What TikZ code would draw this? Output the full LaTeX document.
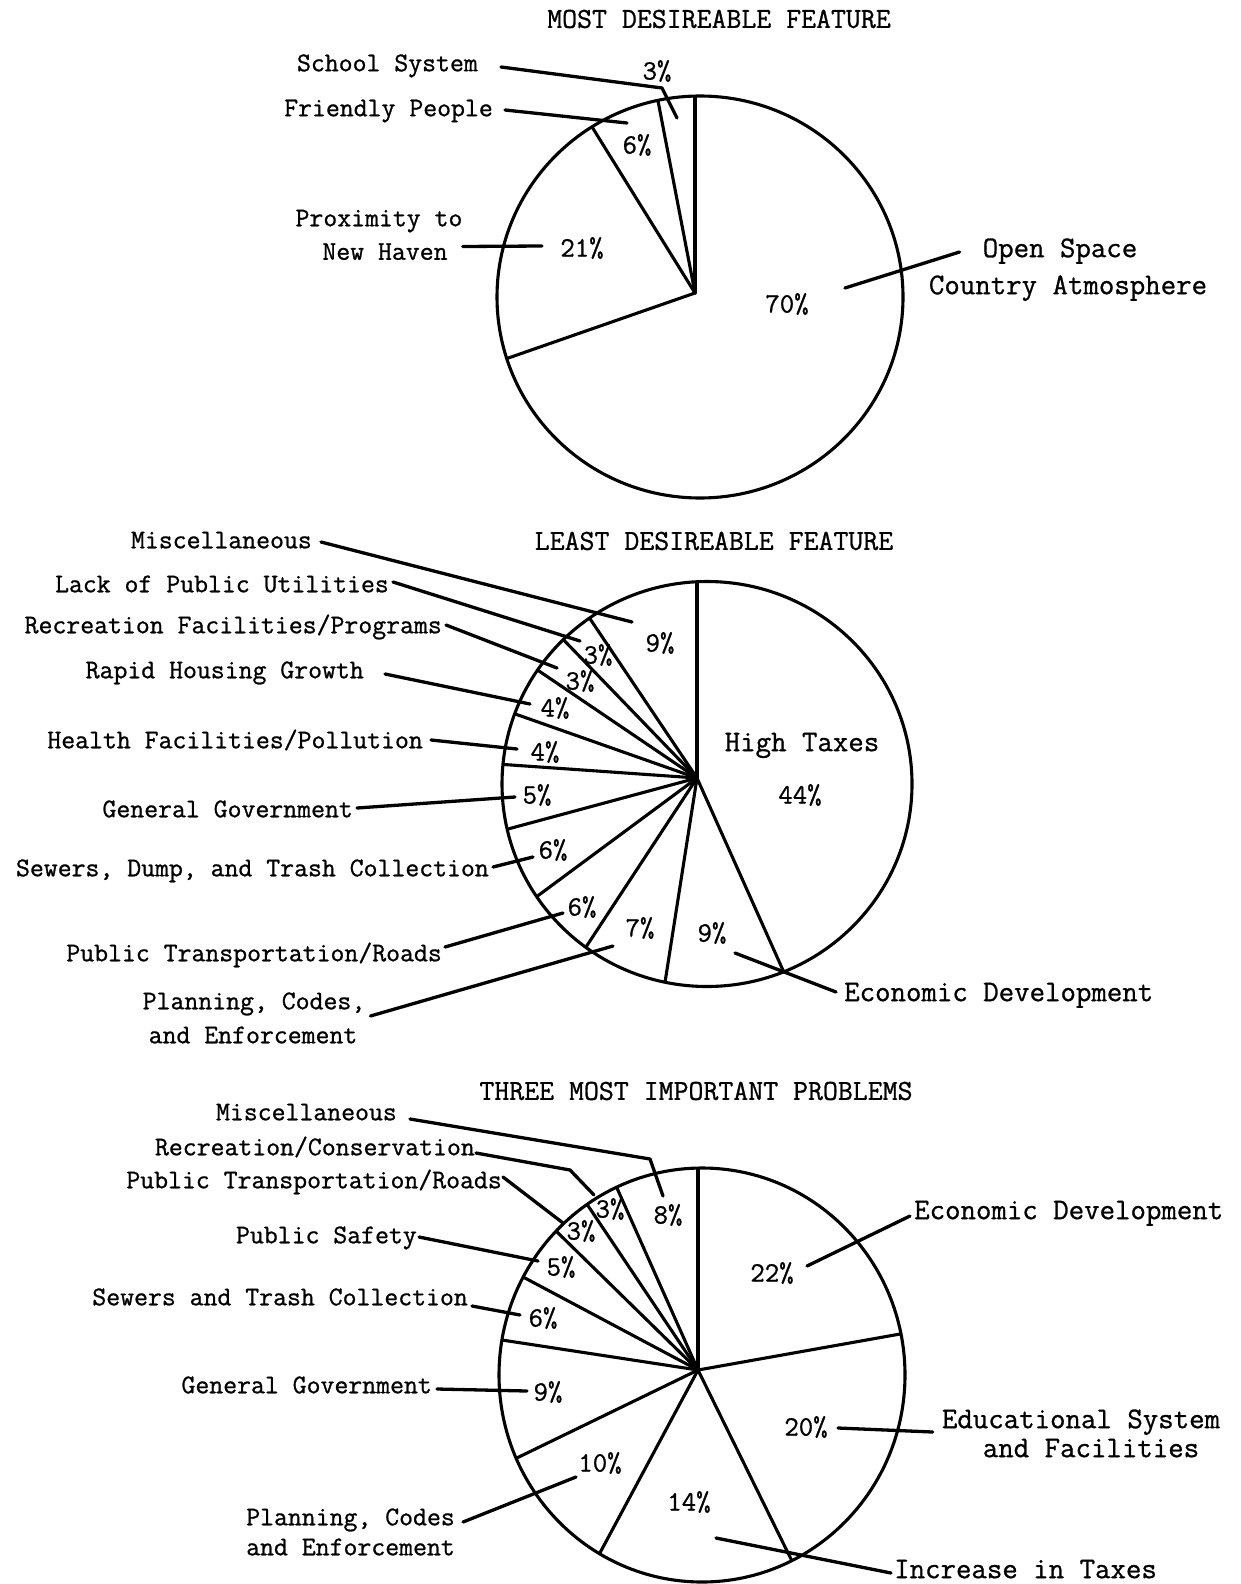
\documentclass[tikz,border=0pt]{standalone}
\usepackage{fontspec}
\newfontfamily\tw[FakeBold=0.9]{Latin Modern Mono}
\begin{document}
\begin{tikzpicture}[x=1pt,y=-1pt,
  pie/.style={line width=3.1pt, line cap=round, line join=round},
  lead/.style={line width=3.3pt, line cap=round, line join=round},
  labL/.style={font=\tw\fontsize{27pt}{30pt}\selectfont, inner sep=0pt, text height=16.5pt, text depth=0pt},
  labR/.style={font=\tw\fontsize{30pt}{33pt}\selectfont, inner sep=0pt, text height=18.3pt, text depth=0pt},
  pct/.style={font=\tw\fontsize{28pt}{30pt}\selectfont, inner sep=0pt, text height=17.1pt, text depth=0pt},
  ttl/.style={font=\tw\fontsize{29pt}{31pt}\selectfont, inner sep=0pt, text height=17.7pt, text depth=0pt}]
\fill[white] (0,0) rectangle (1240,1584);
\useasboundingbox (0,0) rectangle (1240,1584);

% ================= PIE 1 =================
\coordinate (c1) at (695,293);
\begin{scope}
  \clip (700,297) ellipse [x radius=203pt, y radius=201pt];
  \foreach \a in {90,100.9,121.8,199.2} \draw[pie] (c1) -- ++(-\a:450);
\end{scope}
\draw[pie] (700,297) ellipse [x radius=203pt, y radius=201pt];

\node[ttl] (t1) at (719,19) {MOST DESIREABLE FEATURE};
\node[labL, anchor=east] (ss) at (478,63) {School System};
\node[pct] (p1a) at (657,71) {3\%};
\node[labL, anchor=east] (fp) at (493,108) {Friendly People};
\node[pct] (p1b) at (637,145) {6\%};
\node[labL] (px1) at (379,218) {Proximity to};
\node[labL] (px2) at (385,251.5) {New Haven};
\node[pct] (p1c) at (582,248) {21\%};
\node[labR] (os1) at (1060,248) {Open Space};
\node[labR] (os2) at (1068,285) {Country Atmosphere};
\node[pct] (p1d) at (787,304) {70\%};

\coordinate (ssA) at (662,88); \coordinate (ssB) at (677,118);
\draw[lead] ([shift={(23,4)}]ss.east) -- (ssA) -- (ssB);
\coordinate (fpA) at (627,123);
\draw[lead] ([shift={(12,2)}]fp.east) -- (fpA);
\coordinate (pxA) at (542,246);
\draw[lead] ([shift={(15,-5)}]px2.east) -- (pxA);
\coordinate (osA) at (845,288);
\draw[lead] (osA) -- ([shift={(-23,4)}]os1.west);

% ================= PIE 2 =================
\coordinate (c2) at (697,778);
\begin{scope}
  \clip (707,784) ellipse [x radius=205pt, y radius=202.5pt];
  \foreach \a in {90,123.9,134,145.9,160.6,176,195.1,216.5,236.7,261.1,294.1} \draw[pie] (c2) -- ++(-\a:450);
\end{scope}
\draw[pie] (707,784) ellipse [x radius=205pt, y radius=202.5pt];

\node[ttl] (t2) at (714,541) {LEAST DESIREABLE FEATURE};
\node[labL, anchor=east] (m2) at (312,540) {Miscellaneous};
\node[labL, anchor=east] (lu2) at (389,584) {Lack of Public Utilities};
\node[labL, anchor=east] (rf2) at (442,625) {Recreation Facilities/Programs};
\node[labL, anchor=east] (rh2) at (364,670) {Rapid Housing Growth};
\node[labL, anchor=east] (hf2) at (423,740) {Health Facilities/Pollution};
\node[labL, anchor=east] (gg2) at (353,809) {General Government};
\node[labL, anchor=east] (sd2) at (489,868) {Sewers, Dump, and Trash Collection};
\node[labL, anchor=east] (pt2) at (442,953) {Public Transportation/Roads};
\node[labL] (pc2a) at (254,1001) {Planning, Codes,};
\node[labL] (pc2b) at (253,1035) {and Enforcement};
\node[labR] (ht2) at (802,742) {High Taxes};
\node[pct] (q44) at (800,795) {44\%};
\node[labR, anchor=west] (ed2) at (844,992) {Economic Development};

\node[pct] (q2a) at (660,643) {9\%};
\node[pct] (q2b) at (598,655) {3\%};
\node[pct] (q2c) at (580,681) {3\%};
\node[pct] (q2d) at (555,708) {4\%};
\node[pct] (q2e) at (545,752) {4\%};
\node[pct] (q2f) at (537,795) {5\%};
\node[pct] (q2g) at (553,850) {6\%};
\node[pct] (q2h) at (582,907) {6\%};
\node[pct] (q2i) at (640,928) {7\%};
\node[pct] (q2j) at (712,933) {9\%};

\coordinate (m2e) at (632,622);
\coordinate (lu2e) at (580,641);
\coordinate (rf2e) at (557,668);
\coordinate (rh2e) at (530,704);
\coordinate (hf2e) at (517,749);
\coordinate (gg2e) at (515,797);
\coordinate (sd2e) at (533,857);
\coordinate (pt2e) at (563,913);
\coordinate (pc2e) at (613,946);
\coordinate (ed2s) at (735,953);
\draw[lead] ([shift={(9,2)}]m2.east) -- (m2e);
\draw[lead] ([shift={(4,-2)}]lu2.east) -- (lu2e);
\draw[lead] ([shift={(4,0)}]rf2.east) -- (rf2e);
\draw[lead] ([shift={(21,4)}]rh2.east) -- (rh2e);
\draw[lead] ([shift={(8,0)}]hf2.east) -- (hf2e);
\draw[lead] ([shift={(4,-1)}]gg2.east) -- (gg2e);
\draw[lead] ([shift={(4,-1)}]sd2.east) -- (sd2e);
\draw[lead] ([shift={(3,-6)}]pt2.east) -- (pt2e);
\draw[lead] ([shift={(5,15)}]pc2a.east) -- (pc2e);
\draw[lead] (ed2s) -- ([shift={(-8,0)}]ed2.west);

% ================= PIE 3 =================
\coordinate (c3) at (698,1370);
\begin{scope}
  \clip (702,1375) ellipse [x radius=203pt, y radius=207pt];
  \foreach \a in {90,114,123.8,135.6,152,171.3,205.9,241.8,296.2,370.1} \draw[pie] (c3) -- ++(-\a:450);
\end{scope}
\draw[pie] (702,1375) ellipse [x radius=203pt, y radius=207pt];

\node[ttl] (t3) at (696,1091) {THREE MOST IMPORTANT PROBLEMS};
\node[labL, anchor=east] (m3) at (397,1112) {Miscellaneous};
\node[labL, anchor=east] (rc3) at (475,1147) {Recreation/Conservation};
\node[labL, anchor=east] (pt3) at (502,1180) {Public Transportation/Roads};
\node[labL, anchor=east] (ps3) at (417,1235) {Public Safety};
\node[labL, anchor=east] (sw3) at (468,1297) {Sewers and Trash Collection};
\node[labL, anchor=east] (gg3) at (432,1385) {General Government};
\node[labL, anchor=east] (pc3a) at (455,1517) {Planning, Codes};
\node[labL, anchor=east] (pc3b) at (455,1547) {and Enforcement};
\node[labR, anchor=west] (ec3) at (914,1210) {Economic Development};
\node[labR] (es3a) at (1081,1419) {Educational System};
\node[labR] (es3b) at (1091,1448) {and Facilities};
\node[labR, anchor=west] (it3) at (894,1569) {Increase in Taxes};

\node[pct] (r3a) at (668,1215) {8\%};
\node[pct] (r3b) at (610,1209) {3\%};
\node[pct] (r3c) at (581,1231) {3\%};
\node[pct] (r3d) at (561,1267) {5\%};
\node[pct] (r3e) at (543,1318) {6\%};
\node[pct] (r3f) at (548,1392) {9\%};
\node[pct] (r3g) at (600,1463) {10\%};
\node[pct] (r3h) at (689,1502) {14\%};
\node[pct] (r3i) at (806,1427) {20\%};
\node[pct] (r3j) at (772,1273) {22\%};

\coordinate (m3a) at (650,1159); \coordinate (m3b) at (663,1196);
\coordinate (rc3a) at (570,1170); \coordinate (rc3b) at (594,1195);
\coordinate (pt3e) at (563,1223);
\coordinate (ps3e) at (538,1261);
\coordinate (sw3e) at (520,1315);
\coordinate (gg3e) at (527,1391);
\coordinate (pc3e) at (576,1477);
\coordinate (ec3s) at (807,1266);
\coordinate (es3s) at (838,1428);
\coordinate (it3s) at (716,1538);
\draw[lead] ([shift={(13,7)}]m3.east) -- (m3a) -- (m3b);
\draw[lead] ([shift={(1,6)}]rc3.east) -- (rc3a) -- (rc3b);
\draw[lead] ([shift={(1,-3)}]pt3.east) -- (pt3e);
\draw[lead] ([shift={(2,2)}]ps3.east) -- (ps3e);
\draw[lead] ([shift={(4,9)}]sw3.east) -- (sw3e);
\draw[lead] ([shift={(5,4)}]gg3.east) -- (gg3e);
\draw[lead] ([shift={(8,5)}]pc3a.east) -- (pc3e);
\draw[lead] (ec3s) -- ([shift={(-4,6)}]ec3.west);
\draw[lead] (es3s) -- ([shift={(-9,13)}]es3a.west);
\draw[lead] (it3s) -- ([shift={(-3,4)}]it3.west);
\end{tikzpicture}
\end{document}
